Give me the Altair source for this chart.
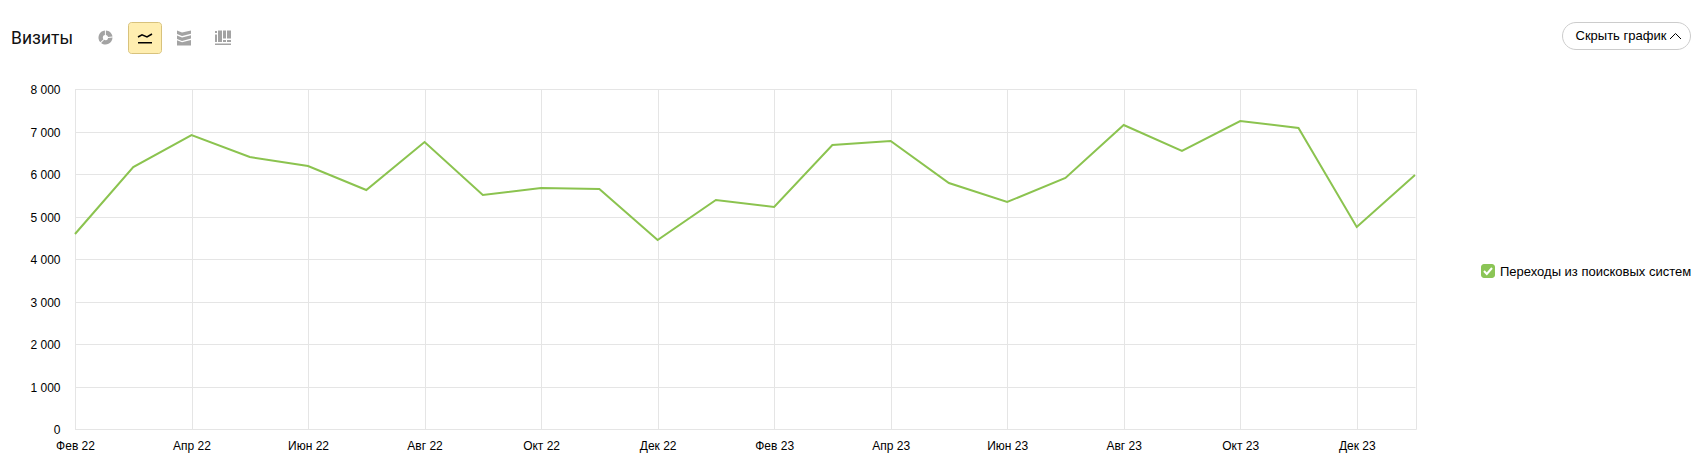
import altair as alt
import pandas as pd

months = ["Фев 22","Мар 22","Апр 22","Май 22","Июн 22","Июл 22","Авг 22","Сен 22","Окт 22","Ноя 22","Дек 22","Янв 23",
          "Фев 23","Мар 23","Апр 23","Май 23","Июн 23","Июл 23","Авг 23","Сен 23","Окт 23","Ноя 23","Дек 23","Янв 24"]
visits = [4585,6175,6925,6395,6195,5620,6760,5505,5670,5645,4445,5377,
          5225,6680,6782,5786,5352,5914,7153,6540,7240,7075,4752,5978]
shown_months = months[::2]
y_ticks = [0,1000,2000,3000,4000,5000,6000,7000,8000]
series_name = "Переходы из поисковых систем"

FONT = "Liberation Sans"
OX, OY = 75, 89          # page position of the plot's corner
W, H = 1341, 340
one = alt.Data(values=[{"a": 1}])

def box(x1, y1, x2, y2, **kw):
    return alt.Chart(one).mark_rect(**kw).encode(
        x=alt.value(x1 - OX), x2=alt.value(x2 - OX), y=alt.value(y1 - OY), y2=alt.value(y2 - OY))

def label(txt, x, y, size, font=FONT, color="#000000", **kw):
    return alt.Chart(one).mark_text(text=txt, align="left", baseline="alphabetic", font=font,
                                    fontSize=size, color=color, **kw).encode(
        x=alt.value(x - OX), y=alt.value(y - OY))

def glyph(path, x, y, fill=None, stroke=None, sw=1):
    kw = dict(shape=path, size=4, opacity=1)
    if fill:
        kw.update(filled=True, fill=fill, strokeWidth=0)
    else:
        kw.update(filled=False, stroke=stroke, strokeWidth=sw)
    return alt.Chart(one).mark_point(**kw).encode(x=alt.value(x - OX), y=alt.value(y - OY))

GREY = "#a3a3a3"
pie = ("M0.4 -7 A7 7 0 0 1 7 -1 L2.6 -0.4 A2.6 2.6 0 0 0 0.4 -2.6 Z "
       "M-0.6 -7 L-0.6 -2.6 A2.6 2.6 0 0 0 -2 1.7 L-5.2 4.7 A7 7 0 0 1 -0.6 -7 Z "
       "M-1.3 2.3 A2.6 2.6 0 0 0 2.6 0.4 L7 0 A7 7 0 0 1 -4.4 5.4 Z")
wave = "M-7 -1 L-3 -3.2 L2 -1 L7 -4"
bands = ("M-7 -7.5 L-2 -5.5 L7 -7.5 L7 -4.2 L-2 -2 L-7 -4 Z "
         "M-7 -2.6 L-2 -0.6 L7 -2.8 L7 0.6 L-2 2.9 L-7 0.9 Z "
         "M-7 2.3 L-2 4.3 L7 2 L7 7.5 L-7 7.5 Z")
bars = ("M-8 -3 H-6 V4.5 H-8 Z M-8 -6.5 H-6 V-4.5 H-8 Z M-5 -7 H-1 V4.5 H-5 Z "
        "M0 -7 H3 V1 H0 Z M0 2.5 H3 V4.5 H0 Z M4 -7 H8 V1 H4 Z M4 2.5 H8 V4.5 H4 Z M-8 6 H8 V7.5 H-8 Z")
chevron = "M-5.5 3 L0 -2.5 L5.5 3"
check = "M-4 0 L-1.2 3 L4 -3"

df = pd.DataFrame({"month": months, "visits": visits})

line = alt.Chart(df).mark_line(color="#8bc34f", strokeWidth=2, clip=False).encode(
    x=alt.X("month:N", sort=months,
            scale=alt.Scale(type="point", padding=0, range=[0, 1340]),
            axis=alt.Axis(values=shown_months, title=None, labelAngle=0, ticks=False,
                          labelFont=FONT, labelFontSize=12, labelColor="#000000",
                          labelPadding=11, labelOverlap=False, labelFlush=False,
                          grid=True, gridColor="#e5e5e5", gridWidth=1,
                          domainColor="#e5e5e5", domainWidth=1)),
    y=alt.Y("visits:Q", scale=alt.Scale(domain=[0, 8000], nice=False, round=True),
            axis=alt.Axis(values=y_ticks, title=None, ticks=False,
                          labelFont=FONT, labelFontSize=12, labelColor="#000000",
                          labelPadding=15,
                          labelExpr="replace(format(datum.value, ','), ',', ' ')",
                          grid=True, gridColor="#e5e5e5", gridWidth=1,
                          domainColor="#e5e5e5", domainWidth=1)),
)

chrome = [
    label("Визиты", 11, 43.5, 17.5, font="Roboto", color="#111111"),
    glyph(pie, 105.5, 37.5, fill=GREY),
    box(128.5, 22.5, 161.5, 53.5, fill="#ffeeb0", stroke="#d8c27c", strokeWidth=1, cornerRadius=3),
    glyph(wave, 145, 38, stroke="#000000", sw=1.5),
    box(138, 42, 152, 43.5, fill="#000000"),
    glyph(bands, 184, 38, fill=GREY),
    glyph(bars, 223, 37.5, fill=GREY),
    box(1562.5, 22.5, 1690.5, 49.5, fill="#ffffff", stroke="#cccccc", strokeWidth=1, cornerRadius=13.5),
    label("Скрыть график", 1575.5, 40, 13),
    glyph(chevron, 1675.5, 36, stroke="#000000", sw=1),
    box(1481, 264, 1495, 278, fill="#8bc556", cornerRadius=3),
    glyph(check, 1488, 271, stroke="#ffffff", sw=2),
    label(series_name, 1500, 276, 13),
]

chart = alt.layer(line, *chrome).properties(
    width=W, height=H,
    autosize=alt.AutoSizeParams(type="none"),
    padding={"left": OX - 8, "top": OY - 8, "right": 1688 - (OX - 8) - W, "bottom": 30},
    background="#ffffff",
).configure_view(stroke="#e5e5e5", strokeWidth=1)

chart.save("out.html", embed_options={"renderer": "svg", "actions": False})
